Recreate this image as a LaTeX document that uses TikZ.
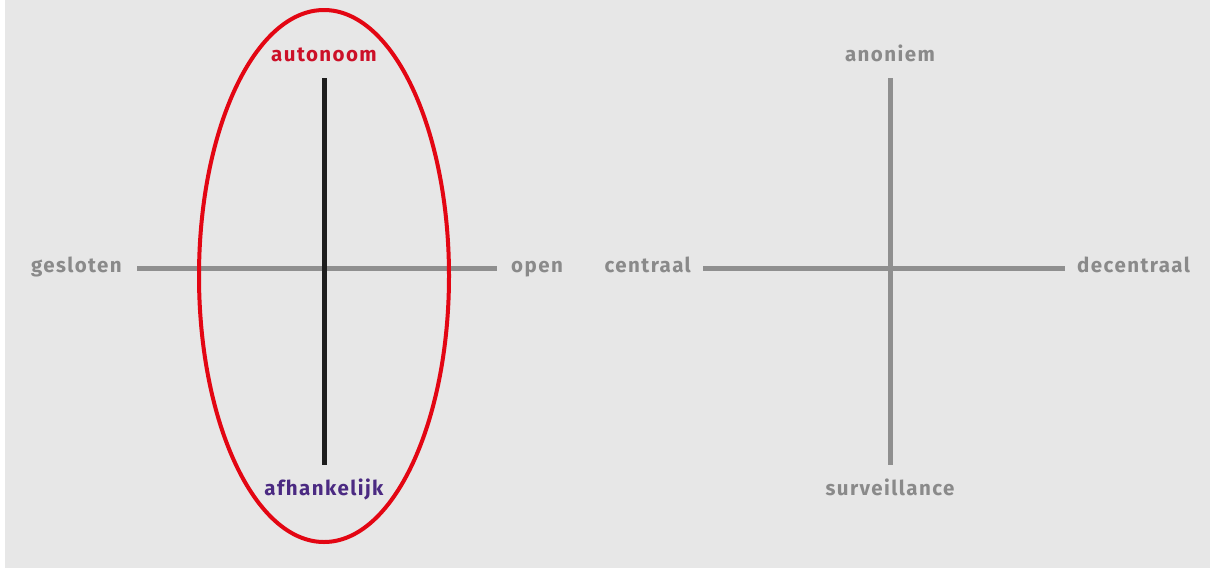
\documentclass[tikz,border=0pt]{standalone}
\usepackage{fontspec}
\setmainfont{Fira Sans}
\newfontfamily\lblfont[LetterSpace=7,UprightFont=*,BoldFont=* Bold]{Fira Sans}
\usetikzlibrary{shapes.geometric}
\definecolor{bg}{HTML}{E7E7E7}
\definecolor{axgrey}{HTML}{8F8F8F}
\definecolor{txgrey}{HTML}{8A8A8A}
\definecolor{axdark}{HTML}{1E1E1E}
\definecolor{ellred}{HTML}{E30613}
\definecolor{txred}{HTML}{CC1028}
\definecolor{txpurple}{HTML}{4B2A82}
\tikzset{
  lbl/.style={font=\lblfont\bfseries\fontsize{20.5}{24}\selectfont, text=txgrey, inner sep=0pt},
  axis/.style={line width=5pt, draw=axgrey},
}
\begin{document}
\begin{tikzpicture}[x=1pt,y=-1pt]
\useasboundingbox (0,0) rectangle (1210,568);
\fill[white] (0,0) rectangle (1210,568);
\fill[bg] (5,0) rectangle (1210,568);
% left diagram
\coordinate (lt) at (324,78);
\coordinate (lb) at (324,465);
\coordinate (ll) at (137,268);
\coordinate (lr) at (497,268);
\draw[axis] (ll) -- (lr);
\draw[axis, draw=axdark] (lt) -- (lb);
\node[draw=ellred, line width=4pt, ellipse, minimum width=250pt, minimum height=532pt, inner sep=0pt] (ell) at (324,276) {};
\node[lbl, text=txred, anchor=base] (aut) at (324,61) {autonoom};
\node[lbl, text=txpurple, anchor=base] (afh) at (324,495) {afhankelijk};
\node[lbl, anchor=base east] (ges) at (122,272) {gesloten};
\node[lbl, anchor=base west] (ope) at (511,272) {open};
% right diagram
\coordinate (rt) at (890,78);
\coordinate (rb) at (890,465);
\coordinate (rl) at (703,268);
\coordinate (rr) at (1065,268);
\draw[axis] (rl) -- (rr);
\draw[axis] (rt) -- (rb);
\node[lbl, anchor=base] (ano) at (890,61) {anoniem};
\node[lbl, anchor=base] (sur) at (890,495) {surveillance};
\node[lbl, anchor=base east] (cen) at (691,272) {centraal};
\node[lbl, anchor=base west] (dec) at (1077,272) {decentraal};
\end{tikzpicture}
\end{document}
